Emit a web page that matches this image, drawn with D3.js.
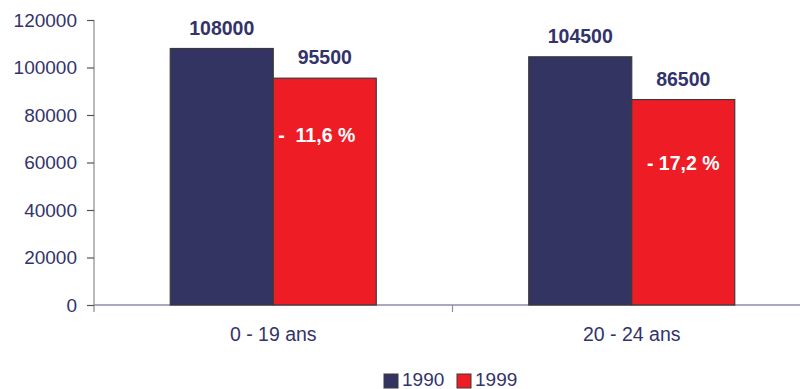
<!DOCTYPE html>
<html>
<head>
<meta charset="utf-8">
<script src="https://cdn.jsdelivr.net/npm/d3@7"></script>
<style>
  body { margin: 0; background: #fff; }
  svg text { font-family: "Liberation Sans", Arial, sans-serif; }
</style>
</head>
<body>
<svg id="chart" width="800" height="389"></svg>
<script>
// ─── DATA ─────────────────────────────────────────────────────────────
const categories = ["0 - 19 ans", "20 - 24 ans"];
const series = ["1990", "1999"];
const values1990 = [108000, 104500];
const values1999 = [95500, 86500];
const changeLabels = ["-  11,6 %", "- 17,2 %"];
const yTicks = [0, 20000, 40000, 60000, 80000, 100000, 120000];

const COLORS = { "1990": "#333462", "1999": "#ee1c25" };
const TEXT = "#33336b";

// ─── SCALES ───────────────────────────────────────────────────────────
const svg = d3.select("#chart");
const margin = { left: 94, right: -11, top: 20, bottom: 84 };
const W = 800, H = 389;

const x = d3.scaleBand().domain(categories).range([margin.left, W - margin.right]).padding(0);
const y = d3.scaleLinear().domain([0, 120000]).range([H - margin.bottom, margin.top]);
const barW = 103;
// baselines of the white change labels inside the red bars (layout only)
const changeY = [142, 170];
const changeDx = [-8, 0];

// ─── AXES ─────────────────────────────────────────────────────────────
const yAxis = svg.append("g")
  .attr("transform", `translate(${margin.left},0)`)
  .call(d3.axisLeft(y).tickValues(yTicks).tickSize(7).tickPadding(10).tickFormat(d3.format("d")));
yAxis.select(".domain").attr("stroke", "#8a8a8a").attr("stroke-width", 1.2)
  .attr("d", `M0,${y(120000)}V${y(0) + 7}`);
yAxis.selectAll(".tick line").attr("stroke", "#555").attr("stroke-width", 1.2);
yAxis.selectAll(".tick text").attr("fill", TEXT).style("font-size", "19px");

const xAxis = svg.append("g")
  .attr("transform", `translate(0,${y(0)})`);
xAxis.append("line")
  .attr("x1", margin.left).attr("x2", W)
  .attr("stroke", "#8c8cab").attr("stroke-width", 1.5);
// category boundary tick
xAxis.append("line")
  .attr("x1", x(categories[1])).attr("x2", x(categories[1]))
  .attr("y1", 0).attr("y2", 7)
  .attr("stroke", "#8c8cab").attr("stroke-width", 1.2);
xAxis.selectAll("text.cat")
  .data(categories).enter().append("text")
  .attr("class", "cat")
  .attr("x", d => x(d) + x.bandwidth() / 2)
  .attr("y", 36)
  .attr("text-anchor", "middle")
  .attr("fill", TEXT)
  .style("font-size", "19.5px")
  .text(d => d);

// ─── BARS ─────────────────────────────────────────────────────────────
const rows = categories.map((c, i) => ({ cat: c, i, v1990: values1990[i], v1999: values1999[i], change: changeLabels[i] }));

const groups = svg.selectAll("g.grp").data(rows).enter().append("g").attr("class", "grp");

groups.append("rect")
  .attr("x", d => x(d.cat) + x.bandwidth() / 2 - barW)
  .attr("y", d => y(d.v1990))
  .attr("width", barW)
  .attr("height", d => y(0) - y(d.v1990))
  .attr("fill", COLORS["1990"])
  .attr("stroke", "#3a3a3a").attr("stroke-width", 1.2);

groups.append("rect")
  .attr("x", d => x(d.cat) + x.bandwidth() / 2)
  .attr("y", d => y(d.v1999))
  .attr("width", barW)
  .attr("height", d => y(0) - y(d.v1999))
  .attr("fill", COLORS["1999"])
  .attr("stroke", "#3a3a3a").attr("stroke-width", 1.2);

groups.append("text")
  .attr("x", d => x(d.cat) + x.bandwidth() / 2 - barW / 2)
  .attr("y", d => y(d.v1990) - 14)
  .attr("text-anchor", "middle")
  .attr("fill", TEXT).style("font-size", "19.5px").style("font-weight", "bold")
  .text(d => d.v1990);

groups.append("text")
  .attr("x", d => x(d.cat) + x.bandwidth() / 2 + barW / 2)
  .attr("y", d => y(d.v1999) - 14)
  .attr("text-anchor", "middle")
  .attr("fill", TEXT).style("font-size", "19.5px").style("font-weight", "bold")
  .text(d => d.v1999);

groups.append("text")
  .attr("x", d => x(d.cat) + x.bandwidth() / 2 + barW / 2 + changeDx[d.i])
  .attr("y", d => changeY[d.i])
  .attr("text-anchor", "middle")
  .attr("fill", "#fff").style("font-size", "19.5px").style("font-weight", "bold")
  .style("white-space", "pre")
  .attr("xml:space", "preserve")
  .text(d => d.change);

// ─── LEGEND ───────────────────────────────────────────────────────────
const legend = svg.append("g").attr("transform", "translate(384,373)");
const lx = [0, 73];
series.forEach((s, i) => {
  legend.append("rect")
    .attr("x", lx[i]).attr("y", 1).attr("width", 14).attr("height", 14)
    .attr("fill", COLORS[s]).attr("stroke", "#3a3a3a").attr("stroke-width", 1);
  legend.append("text")
    .attr("x", lx[i] + 18).attr("y", 13)
    .attr("fill", TEXT).style("font-size", "19px")
    .text(s);
});
</script>
</body>
</html>
